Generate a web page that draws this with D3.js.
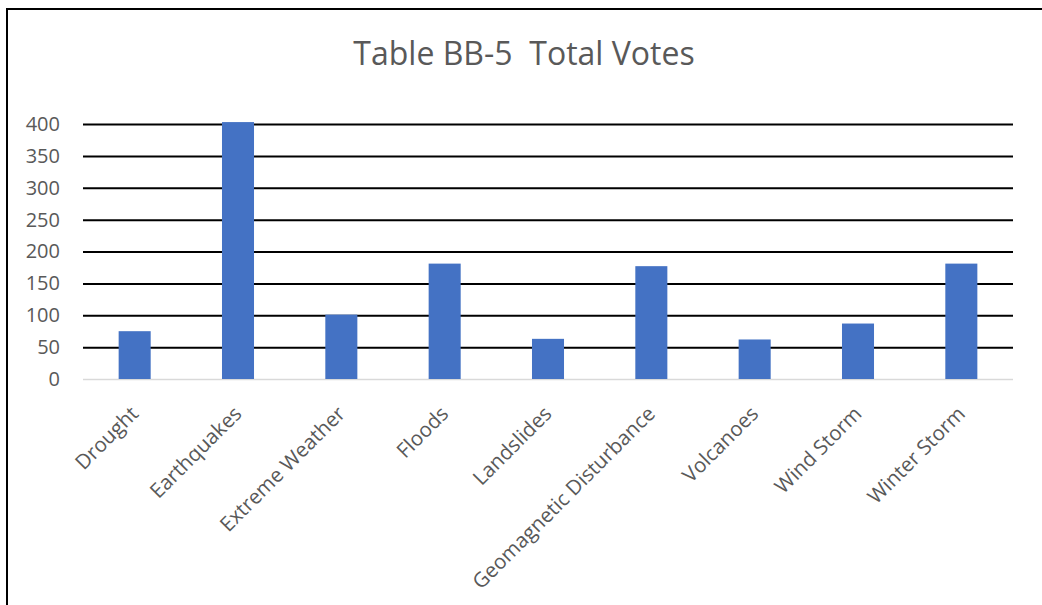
<!DOCTYPE html>
<html>
<head>
<meta charset="utf-8">
<script src="https://cdn.jsdelivr.net/npm/d3@7"></script>
<style>
  body { margin: 0; background: #fff; overflow: hidden; }
  svg { display: block; font-family: "Open Sans", sans-serif; }
</style>
</head>
<body>
<main></main>
<script>
const width = 1042;
const height = 605;
const margin = {top: 124, right: 29, bottom: 225, left: 83};

const categories = ["Drought", "Earthquakes", "Extreme Weather", "Floods", "Landslides",
  "Geomagnetic Disturbance", "Volcanoes", "Wind Storm", "Winter Storm"];
const votes = [75, 403, 101, 181, 63, 177, 62, 87, 181];
const yTicks = [0, 50, 100, 150, 200, 250, 300, 350, 400];
const title = "Table BB-5\u00a0\u00a0Total Votes";

const svg = d3.select('main').append('svg')
    .attr('width', width)
    .attr('height', height);

// outer frame: only top and left edges are inside the shot
svg.append("path")
  .attr("d", `M7,${height} L7,9 L${width},9`)
  .attr("fill", "none")
  .attr("stroke", "#000")
  .attr("stroke-width", 2);

const x = d3.scaleBand()
  .domain(categories)
  .range([margin.left, width - margin.right])
  .paddingInner(0.69)
  .paddingOuter(0.345);

const y = d3.scaleLinear()
  .domain([0, 400])
  .range([height - margin.bottom - 1, margin.top]);

// gridlines + y labels
const yAxis = svg.append("g")
  .attr("transform", `translate(${margin.left},0)`)
  .call(d3.axisLeft(y).tickValues(yTicks).tickSize(-(width - margin.left - margin.right)).tickPadding(23));
yAxis.select(".domain").remove();
yAxis.selectAll(".tick line")
  .attr("stroke", d => d === 0 ? "#d9d9d9" : "#000")
  .attr("stroke-width", d => d === 0 ? 1.5 : 2);
yAxis.selectAll(".tick text")
  .style("font-size", "20px")
  .attr("fill", "#595959")
  .attr("font-family", "Open Sans, sans-serif");

svg.append("g")
  .selectAll("rect")
  .data(votes)
  .enter().append("rect")
  .attr("x", (d, i) => x(categories[i]))
  .attr("y", d => y(d))
  .attr("width", x.bandwidth())
  .attr("height", d => y(0) - y(d))
  .attr("fill", "#4472c4");

// rotated category labels
svg.append("g")
  .selectAll("text")
  .data(categories)
  .enter().append("text")
  .attr("transform", d => `translate(${x(d) + x.bandwidth() / 2 + 5},${y(0) + 36}) rotate(-45)`)
  .attr("text-anchor", "end")
  .style("font-size", "20.5px")
  .attr("fill", "#595959")
  .text(d => d);

svg.append("text")
  .attr("x", 524)
  .attr("y", 65)
  .attr("text-anchor", "middle")
  .style("font-size", "32px")
  .attr("fill", "#595959")
  .text(title);
</script>
</body>
</html>
